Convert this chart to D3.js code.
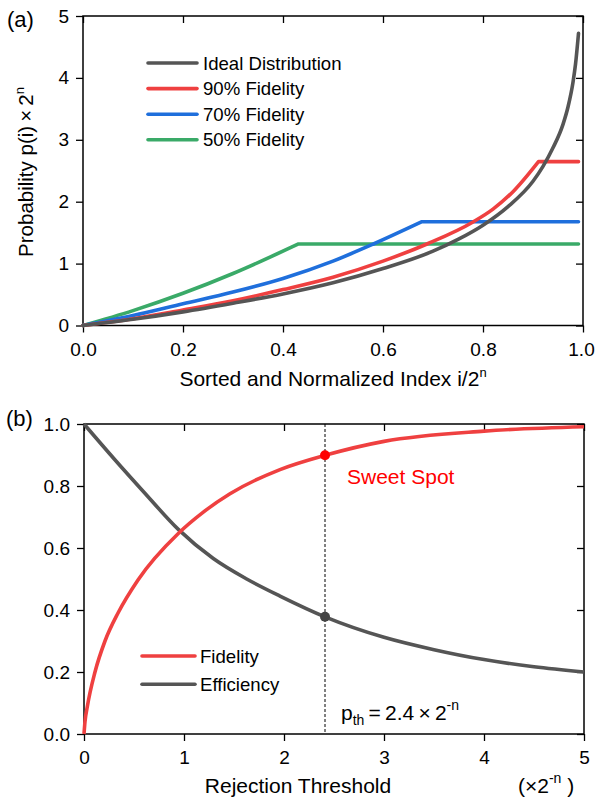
<!DOCTYPE html>
<html>
<head>
<meta charset="utf-8">
<script src="https://cdn.jsdelivr.net/npm/d3@7"></script>
<style>
  body { margin: 0; background: #fff; }
  svg { font-family: "Liberation Sans", Arial, sans-serif; }
  .axis path, .axis line { stroke: #000; stroke-width: 1.3; }
  .axis text { font-size: 19px; fill: #000; }
</style>
</head>
<body>
<div id="chart"></div>
<script>
// panel (a): sorted probability curves
var idealX = [0, 0.1, 0.2, 0.3, 0.4, 0.5, 0.6, 0.7, 0.75, 0.8, 0.85, 0.9, 0.92, 0.94, 0.96, 0.97, 0.98, 0.985, 0.991];
var idealY = [0, 0.1, 0.22, 0.36, 0.51, 0.69, 0.92, 1.2, 1.39, 1.62, 1.92, 2.33, 2.57, 2.87, 3.25, 3.53, 3.93, 4.22, 4.72];

// last point of each noisy curve is the end of its flat cap
var fid90X = [0, 0.1, 0.2, 0.3, 0.4, 0.5, 0.6, 0.688, 0.781, 0.82, 0.861, 0.911, 0.991];
var fid90Y = [0, 0.11, 0.25, 0.4, 0.58, 0.78, 1.04, 1.317, 1.677, 1.88, 2.17, 2.647, 2.647];

var fid70X = [0, 0.1, 0.2, 0.3, 0.4, 0.5, 0.581, 0.678, 0.991];
var fid70Y = [0, 0.16, 0.35, 0.54, 0.76, 1.04, 1.317, 1.677, 1.677];

var fid50X = [0, 0.1, 0.2, 0.3, 0.431, 0.991];
var fid50Y = [0, 0.24, 0.52, 0.84, 1.317, 1.317];

var legendA = ["Ideal Distribution", "90% Fidelity", "70% Fidelity", "50% Fidelity"];
var colorsA = ["#555555", "#ef4040", "#1f6fdc", "#3aaa68"];

// panel (b): fidelity / efficiency vs rejection threshold
var fidT = [0, 0.01, 0.033, 0.11, 0.21, 0.343, 0.54, 0.943, 1.19, 1.46, 1.96, 2.41, 3, 4, 5];
var fidV = [0, 0.04, 0.088, 0.2, 0.3, 0.392, 0.497, 0.647, 0.715, 0.775, 0.853, 0.899, 0.944, 0.977, 0.991];

var effT = [0, 0.3, 0.6, 0.943, 1.293, 1.627, 1.96, 2.41, 3, 3.5, 4, 4.5, 5];
var effV = [1, 0.888, 0.78, 0.66, 0.566, 0.5, 0.445, 0.378, 0.312, 0.272, 0.24, 0.217, 0.2];

var sweetT = 2.41;
var legendB = ["Fidelity", "Efficiency"];

var width = 595, height = 799;

var svg = d3.select("#chart").append("svg")
    .attr("width", width)
    .attr("height", height);

function zip(xs, ys) { return xs.map(function(d, i) { return [d, ys[i]]; }); }

function frame(g, x, y, xFmt, yFmt, xTicks, yTicks) {
    var w = x.range()[1], h = y.range()[0];
    var bx = g.append("g").attr("class", "axis")
        .attr("transform", "translate(0," + h + ")")
        .call(d3.axisBottom(x).tickValues(xTicks).tickFormat(xFmt).tickSize(7).tickSizeOuter(0).tickPadding(10));
    g.append("g").attr("class", "axis")
        .call(d3.axisLeft(y).tickValues(yTicks).tickFormat(yFmt).tickSize(7).tickSizeOuter(0).tickPadding(7));
    g.append("g").attr("class", "axis")
        .call(d3.axisBottom(x).tickValues(xTicks).tickFormat("").tickSize(7).tickSizeOuter(0));
    g.append("g").attr("class", "axis")
        .attr("transform", "translate(" + w + ",0)")
        .call(d3.axisLeft(y).tickValues(yTicks).tickFormat("").tickSize(7).tickSizeOuter(0));
    g.selectAll(".axis .domain").remove();
    g.append("rect")
        .attr("width", w).attr("height", h)
        .attr("fill", "none").attr("stroke", "#000").attr("stroke-width", 1.5);
    return bx;
}

/* ---- panel (a) ---- */
var ga = svg.append("g").attr("transform", "translate(83,16)");
var xa = d3.scaleLinear().domain([0, 1]).range([0, 500]);
var ya = d3.scaleLinear().domain([0, 5]).range([309.5, 0]);

var bxa = frame(ga, xa, ya, d3.format(".1f"), d3.format("d"), [0, 0.2, 0.4, 0.6, 0.8, 1], [0, 1, 2, 3, 4, 5]);
// keep the last label inside the page
bxa.selectAll(".tick text").filter(function(d) { return d == 1; }).attr("dx", -2);

var lineA = d3.line()
    .x(function(d) { return xa(d[0]); })
    .y(function(d) { return ya(d[1]); })
    .curve(d3.curveMonotoneX);

// smooth rise, then a sharp corner into the flat cap
function capped(pts) {
    var last = pts[pts.length - 1];
    return lineA(pts.slice(0, -1)) + "L" + xa(last[0]) + "," + ya(last[1]);
}

var seriesA = [zip(idealX, idealY), zip(fid90X, fid90Y), zip(fid70X, fid70Y), zip(fid50X, fid50Y)];
[3, 2, 1, 0].forEach(function(i) {
    ga.append("path")
        .attr("d", i == 0 ? lineA(seriesA[i]) : capped(seriesA[i]))
        .attr("fill", "none")
        .attr("stroke", colorsA[i])
        .attr("stroke-width", 3.6)
        .attr("stroke-linecap", "round")
        .attr("stroke-linejoin", "round");
});

legendA.forEach(function(name, i) {
    var yy = 47 + i * 25.6;
    ga.append("line")
        .attr("x1", 65).attr("x2", 114)
        .attr("y1", yy).attr("y2", yy)
        .attr("stroke", colorsA[i]).attr("stroke-width", 3.6).attr("stroke-linecap", "round");
    ga.append("text")
        .attr("x", 120).attr("y", yy + 6.5)
        .attr("font-size", 18.6)
        .text(name);
});

svg.append("text").attr("x", 7).attr("y", 27).attr("font-size", 22).text("(a)");

var xtA = svg.append("text")
    .attr("x", 333).attr("y", 386)
    .attr("text-anchor", "middle")
    .attr("font-size", 21)
    .text("Sorted and Normalized Index i/2");
xtA.append("tspan").attr("font-size", 13).attr("dy", -9).text("n");

var ytA = svg.append("text")
    .attr("transform", "translate(33,172) rotate(-90)")
    .attr("text-anchor", "middle")
    .attr("font-size", 20.5)
    .text("Probability p(i)\u2009\u00d7\u20092");
ytA.append("tspan").attr("font-size", 13).attr("dy", -9).text("n");

/* ---- panel (b) ---- */
var gb = svg.append("g").attr("transform", "translate(84,424)");
var xb = d3.scaleLinear().domain([0, 5]).range([0, 500]);
var yb = d3.scaleLinear().domain([0, 1]).range([310, 0]);

frame(gb, xb, yb, d3.format("d"), d3.format(".1f"), [0, 1, 2, 3, 4, 5], [0, 0.2, 0.4, 0.6, 0.8, 1]);

var lineB = d3.line()
    .x(function(d) { return xb(d[0]); })
    .y(function(d) { return yb(d[1]); })
    .curve(d3.curveMonotoneX);

gb.append("line")
    .attr("x1", xb(sweetT)).attr("x2", xb(sweetT))
    .attr("y1", 0).attr("y2", 310)
    .attr("stroke", "#000").attr("stroke-width", 1)
    .attr("stroke-dasharray", "3,2");

gb.append("path").datum(zip(effT, effV))
    .attr("d", lineB).attr("fill", "none")
    .attr("stroke", "#555555").attr("stroke-width", 3.6);

gb.append("path").datum(zip(fidT, fidV))
    .attr("d", lineB).attr("fill", "none")
    .attr("stroke", "#ef4040").attr("stroke-width", 3.6);

gb.append("circle")
    .attr("cx", xb(sweetT)).attr("cy", yb(fidV[fidT.indexOf(sweetT)]))
    .attr("r", 5).attr("fill", "#ff0000");
gb.append("circle")
    .attr("cx", xb(sweetT)).attr("cy", yb(effV[effT.indexOf(sweetT)]))
    .attr("r", 5).attr("fill", "#444444");

legendB.forEach(function(name, i) {
    var yy = 232 + i * 28.3;
    var c = i == 0 ? "#ef4040" : "#555555";
    gb.append("line")
        .attr("x1", 58).attr("x2", 111)
        .attr("y1", yy).attr("y2", yy)
        .attr("stroke", c).attr("stroke-width", 3.6).attr("stroke-linecap", "round");
    gb.append("text")
        .attr("x", 116).attr("y", yy + 6.5)
        .attr("font-size", 18.6)
        .text(name);
});

svg.append("text")
    .attr("x", 347).attr("y", 484)
    .attr("font-size", 21)
    .attr("fill", "#ff0000")
    .text("Sweet Spot");

var pth = svg.append("text")
    .attr("x", 341).attr("y", 720)
    .attr("font-size", 21);
pth.append("tspan").text("p");
pth.append("tspan").attr("font-size", 14).attr("dy", 5).text("th");
pth.append("tspan").attr("dy", -5).text("\u2009=\u20092.4\u2009\u00d7\u20092");
pth.append("tspan").attr("font-size", 14).attr("dy", -10).text("-n");

svg.append("text").attr("x", 6).attr("y", 426).attr("font-size", 22).text("(b)");

svg.append("text")
    .attr("x", 298).attr("y", 793)
    .attr("text-anchor", "middle")
    .attr("font-size", 21)
    .text("Rejection Threshold");

var unit = svg.append("text")
    .attr("x", 518).attr("y", 793)
    .attr("font-size", 21);
unit.append("tspan").text("(\u00d72");
unit.append("tspan").attr("font-size", 14).attr("dy", -10).text("-n");
unit.append("tspan").attr("dy", 10).text(" )");
</script>
</body>
</html>
